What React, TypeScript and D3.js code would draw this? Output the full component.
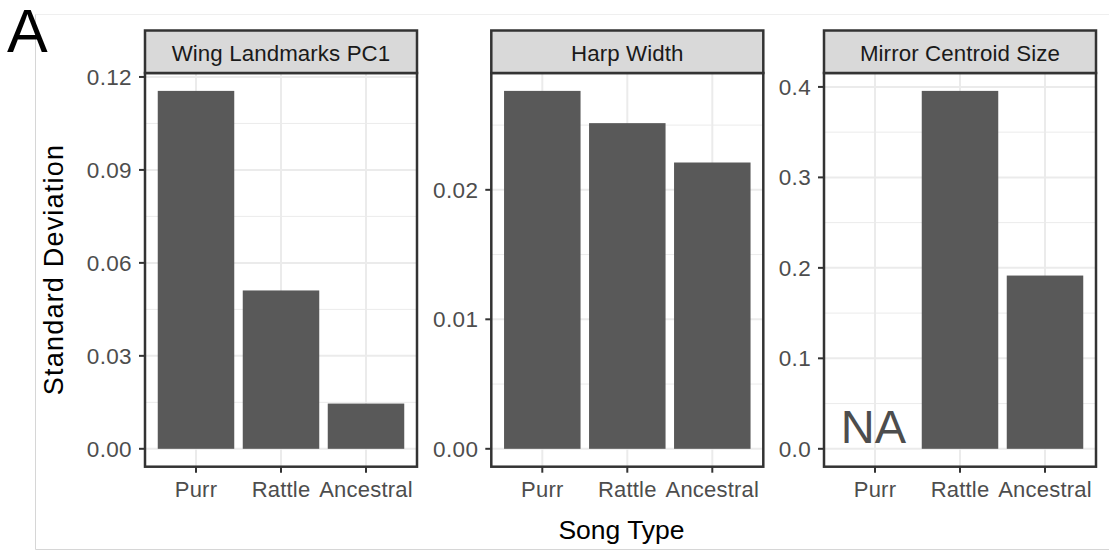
import React from "react";
import * as d3 from "d3";

const categories = ["Purr", "Rattle", "Ancestral"];
const panelTitles = ["Wing Landmarks PC1", "Harp Width", "Mirror Centroid Size"];
const wingPC1 = [0.1155, 0.0511, 0.0146];
const harpWidth = [0.02764, 0.02515, 0.02211];
const mirrorSize: (number | null)[] = [null, 0.3956, 0.1915];
const wingTicks = [0, 0.03, 0.06, 0.09, 0.12];
const harpTicks = [0, 0.01, 0.02];
const mirrorTicks = [0, 0.1, 0.2, 0.3, 0.4];
const tickFormats = [".2f", ".2f", ".1f"];
const panelLabel = "A";
const xTitle = "Song Type";
const yTitle = "Standard Deviation";
const naLabel = "NA";

const FONT = "'Liberation Sans', Arial, Helvetica, sans-serif";
const W = 1109;
const H = 553;
const panelLefts = [145, 491.3, 824];
const panelW = 272;
const stripTop = 30.5;
const stripBottom = 73;
const panelBottom = 466.7;
const tickFont = 22.5;
const tickSpacing = 0.35;
const xTickFont = 22;
const xTickSpacing = 0.2;

type Panel = { title: string; values: (number | null)[]; ticks: number[]; fmt: string };

const panels: Panel[] = [
  { title: panelTitles[0], values: wingPC1, ticks: wingTicks, fmt: tickFormats[0] },
  { title: panelTitles[1], values: harpWidth, ticks: harpTicks, fmt: tickFormats[1] },
  { title: panelTitles[2], values: mirrorSize, ticks: mirrorTicks, fmt: tickFormats[2] },
];

function PanelView({ p, left }: { p: Panel; left: number }) {
  const vals = p.values.filter((v): v is number => v !== null);
  const maxV = d3.max(vals) ?? 1;
  const pad = maxV * 0.05;
  const y = d3.scaleLinear().domain([-pad, maxV + pad]).range([panelBottom, stripBottom]);
  const x = d3
    .scaleBand<string>()
    .domain(categories)
    .range([left, left + panelW])
    .paddingInner(0.1)
    .paddingOuter(0.15);
  const bw = x.bandwidth();
  const center = (c: string) => (x(c) as number) + bw / 2;
  const step = p.ticks[1] - p.ticks[0];
  const minor = d3
    .range(p.ticks.length + 1)
    .map((i) => p.ticks[0] - step / 2 + i * step)
    .filter((v) => v > -pad && v < maxV + pad);
  const fmt = d3.format(p.fmt);
  const border = "#333333";
  return (
    <g>
      <rect x={left} y={stripBottom} width={panelW} height={panelBottom - stripBottom} fill="#fff" />
      {minor.map((v) => (
        <line key={"mn" + v} x1={left} x2={left + panelW} y1={y(v)} y2={y(v)} stroke="#EBEBEB" strokeWidth={1} />
      ))}
      {p.ticks.map((v) => (
        <line key={"mj" + v} x1={left} x2={left + panelW} y1={y(v)} y2={y(v)} stroke="#EBEBEB" strokeWidth={2} />
      ))}
      {categories.map((c) => (
        <line key={"vx" + c} x1={center(c)} x2={center(c)} y1={stripBottom} y2={panelBottom} stroke="#EBEBEB" strokeWidth={2} />
      ))}
      {categories.map((c, i) => {
        const v = p.values[i];
        if (v === null) return null;
        return <rect key={"b" + c} x={x(c)} y={y(v)} width={bw} height={y(0) - y(v)} fill="#595959" />;
      })}
      {categories.map((c, i) =>
        p.values[i] === null ? (
          <text key={"na" + c} x={center(c) - 1.5} y={y(0) - 6} textAnchor="middle" fontFamily={FONT} fontSize={47} fill="#4D4D4D">
            {naLabel}
          </text>
        ) : null
      )}
      <rect x={left} y={stripBottom} width={panelW} height={panelBottom - stripBottom} fill="none" stroke={border} strokeWidth={2.5} />
      <rect x={left} y={stripTop} width={panelW} height={stripBottom - stripTop} fill="#D9D9D9" stroke={border} strokeWidth={2.5} />
      <text x={left + panelW / 2} y={60.8} textAnchor="middle" fontFamily={FONT} fontSize={22.3} letterSpacing={0.1} fill="#1A1A1A">
        {p.title}
      </text>
      {p.ticks.map((v) => (
        <g key={"yt" + v}>
          <line x1={left - 6} x2={left} y1={y(v)} y2={y(v)} stroke={border} strokeWidth={2} />
          <text
            x={left - 13}
            y={y(v)}
            dy="0.36em"
            textAnchor="end"
            fontFamily={FONT}
            fontSize={tickFont}
            letterSpacing={tickSpacing}
            fill="#4D4D4D"
          >
            {fmt(v)}
          </text>
        </g>
      ))}
      {categories.map((c) => (
        <g key={"xt" + c}>
          <line x1={center(c)} x2={center(c)} y1={panelBottom} y2={panelBottom + 6} stroke={border} strokeWidth={2} />
          <text
            x={center(c)}
            y={497.3}
            textAnchor="middle"
            fontFamily={FONT}
            fontSize={xTickFont}
            letterSpacing={xTickSpacing}
            fill="#4D4D4D"
          >
            {c}
          </text>
        </g>
      ))}
    </g>
  );
}

export default function App() {
  return (
    <svg width={W} height={H} style={{ position: "absolute", left: 0, top: 0, display: "block" }}>
      <rect x={0} y={0} width={W} height={H} fill="#fff" />
      <line x1={35.5} x2={W} y1={14.5} y2={14.5} stroke="#EFEFEF" strokeWidth={1} />
      <line x1={35.5} x2={35.5} y1={14.5} y2={549.5} stroke="#D6D6D6" strokeWidth={1} />
      <line x1={35.5} x2={W} y1={549.5} y2={549.5} stroke="#D6D6D6" strokeWidth={1} />
      {panels.map((p, i) => (
        <PanelView key={p.title} p={p} left={panelLefts[i]} />
      ))}
      <text x={7} y={52.3} fontFamily={FONT} fontSize={61} fill="#000">
        {panelLabel}
      </text>
      <text x={621.5} y={539.3} textAnchor="middle" fontFamily={FONT} fontSize={26.5} fill="#000">
        {xTitle}
      </text>
      <text
        transform={`translate(62.5, 269.5) rotate(-90)`}
        textAnchor="middle"
        fontFamily={FONT}
        fontSize={27}
        letterSpacing={1.2}
        fill="#000"
      >
        {yTitle}
      </text>
    </svg>
  );
}
